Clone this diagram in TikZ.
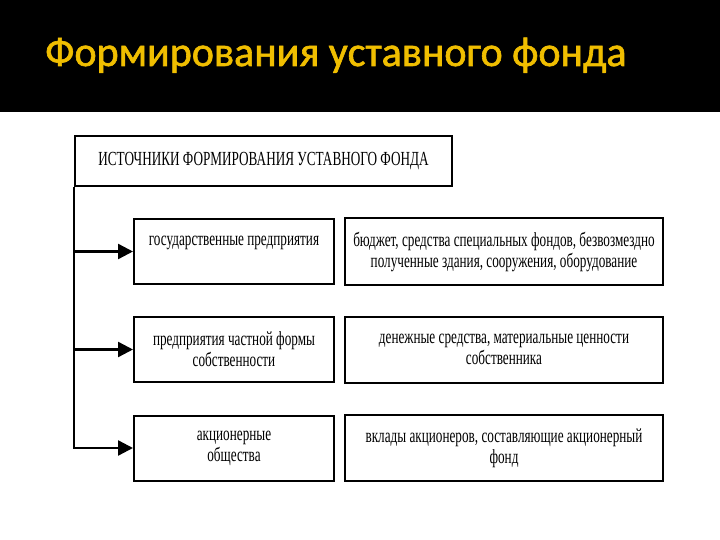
\documentclass[tikz,border=0pt]{standalone}
\usepackage{fontspec}
\setmainfont{Liberation Serif}
\newfontfamily\headfont[FakeBold=1.5]{Carlito}
\newfontfamily\boxfont[FakeStretch=0.66]{Liberation Serif}
\usetikzlibrary{arrows.meta,positioning,calc}
\definecolor{headgold}{RGB}{240,190,0}

\begin{document}
\begin{tikzpicture}[
  x=1pt, y=-1pt,
  titletext/.style={text=headgold, font=\headfont\fontsize{42}{46}\selectfont, inner sep=0pt},
  box/.style={draw, line width=2pt, align=center, inner sep=2pt, font=\boxfont\fontsize{20}{21}\selectfont},
  smallbox/.style={box, minimum width=200pt, minimum height=65pt},
  widebox/.style={box, minimum width=318pt, minimum height=66pt},
  arrow/.style={-{Triangle[length=15pt,width=15pt]}, line width=2.4pt}
]

\useasboundingbox (0,0) rectangle (720,540);
\fill[white] (0,0) rectangle (720,540);
\fill[black] (0,0) rectangle (720,112);

\node[titletext, anchor=base west] (title) at (45,66) {Формирования уставного фонда};

\node[box, minimum width=377pt, minimum height=50pt] (src) at (263.5,161)
  {ИСТОЧНИКИ ФОРМИРОВАНИЯ УСТАВНОГО ФОНДА};

\node[smallbox] (gos) at (234,251.5) {государственные предприятия\\\mbox{}};
\node[widebox] (gosr) at (504,251.5)
  {бюджет, средства специальных фондов, безвозмездно\\полученные здания, сооружения, оборудование};

\node[smallbox] (chast) at (234,349.5) {предприятия частной формы\\собственности};
\node[widebox] (chastr) at (504,349.5)
  {денежные средства, материальные ценности\\собственника};

\node[smallbox] (ao) at (234,448) {акционерные\\общества};
\node[widebox] (aor) at (504,448)
  {вклады  акционеров, составляющие акционерный\\фонд};

\draw[arrow] (src.south west) |- (ao.west);
\draw[arrow] (src.south west |- gos.west) -- (gos.west);
\draw[arrow] (src.south west |- chast.west) -- (chast.west);

\end{tikzpicture}
\end{document}
